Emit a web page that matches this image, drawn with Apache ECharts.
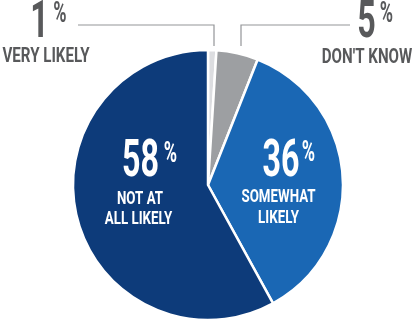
<!DOCTYPE html>
<html>
<head>
<meta charset="utf-8">
<script src="https://cdn.jsdelivr.net/npm/echarts@6/dist/echarts.min.js"></script>
<style>
  html, body { margin: 0; padding: 0; background: #ffffff; }
  #chart { width: 419px; height: 324px; }
</style>
</head>
<body>
<div id="chart"></div>
<script>
// Survey answers, clockwise from 12 o'clock
const categories = ['VERY LIKELY', "DON'T KNOW", 'SOMEWHAT LIKELY', 'NOT AT ALL LIKELY'];
const captionLines = [['VERY LIKELY'], ["DON'T KNOW"], ['SOMEWHAT', 'LIKELY'], ['NOT AT', 'ALL LIKELY']];
const shares = [1, 5, 36, 58];
const sliceColors = ['#dcdde0', '#9d9fa2', '#1a67b4', '#0d3b7a'];

const FONT = 'Roboto, "DejaVu Sans", sans-serif';
const GREY = '#58595b';
const WHITE = '#ffffff';

const chart = echarts.init(document.getElementById('chart'), null, { renderer: 'canvas' });

// Condensed bold text: a regular bold face squeezed horizontally
function txt(str, x, y, size, color, sx) {
  return {
    type: 'text', x: x, y: y, z: 100, scaleX: sx, silent: true,
    style: {
      text: str, x: 0, y: 0, align: 'center', verticalAlign: 'middle',
      fontFamily: FONT, fontWeight: 'bold', fontSize: size, fill: color
    }
  };
}

// number + superscript % + caption lines for one slice
function block(i, color, num, pct, capSize, caps) {
  const els = [
    txt(String(shares[i]), num[0], num[1], 52, color, 0.62),
    txt('%', pct[0], pct[1], 30, color, 0.6)
  ];
  captionLines[i].forEach((line, k) => {
    els.push(txt(line, caps[k][0], caps[k][1], capSize, color, 0.72));
  });
  return els;
}

const option = {
  backgroundColor: '#ffffff',
  animation: false,
  series: [{
    type: 'pie',
    center: [208, 185],
    radius: [0, 135],
    startAngle: 90,
    clockwise: true,
    label: { show: false },
    labelLine: { show: false },
    emphasis: { disabled: true },
    itemStyle: { borderColor: '#ffffff', borderWidth: 2.5 },
    data: categories.map((c, i) => ({ name: c, value: shares[i], itemStyle: { color: sliceColors[i] } }))
  }],
  graphic: [
    // leader lines for the two thin slices
    { type: 'polyline', z: 100, shape: { points: [[78, 25], [214, 25], [214, 46]] }, style: { stroke: '#939598', lineWidth: 1.2, fill: null } },
    { type: 'polyline', z: 100, shape: { points: [[350, 25], [241, 25], [241, 46]] }, style: { stroke: '#939598', lineWidth: 1.2, fill: null } },
    ...block(0, GREY, [39.5, 23.5], [60, 14.5], 21, [[46, 56.8]]),
    ...block(1, GREY, [366.5, 24], [386.5, 14.5], 21, [[367, 57.3]]),
    ...block(3, WHITE, [140.5, 162.5], [170.5, 154], 18.5, [[140, 199.7], [138.5, 219.7]]),
    ...block(2, WHITE, [281, 162.5], [308.5, 153.5], 18.5, [[278.5, 197.7], [278.5, 218.7]])
  ]
};

chart.setOption(option);
</script>
</body>
</html>
